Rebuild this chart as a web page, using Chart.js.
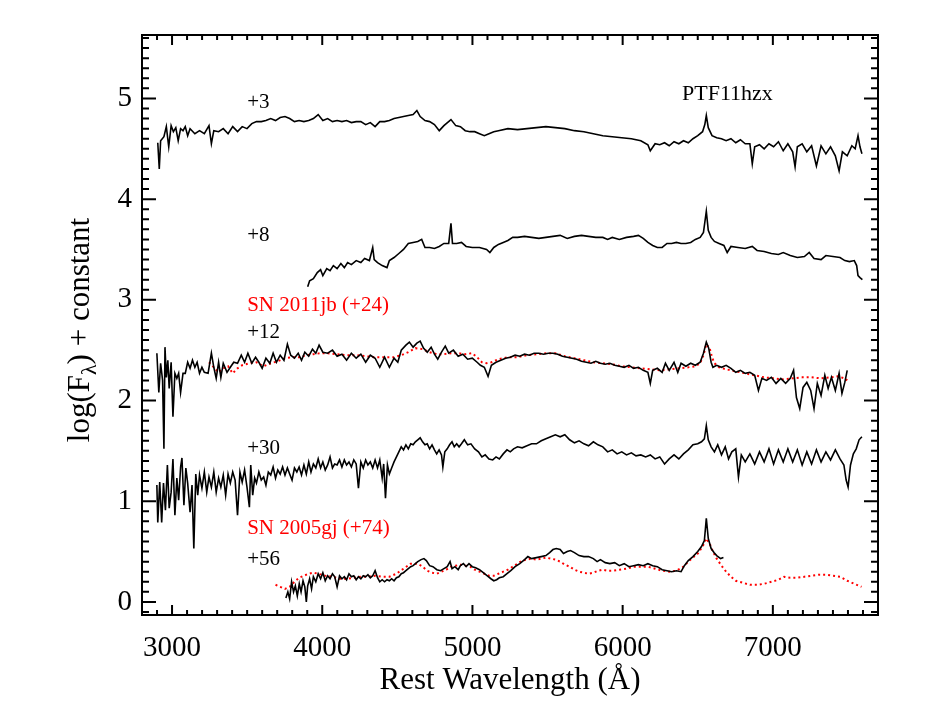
<!DOCTYPE html>
<html>
<head>
<meta charset="utf-8">
<title>PTF11hzx spectra</title>
<script src="https://cdn.jsdelivr.net/npm/chart.js@4.4.1/dist/chart.umd.min.js"></script>
<style>
  html, body { margin: 0; padding: 0; background: #fff; }
  canvas { display: block; }
</style>
</head>
<body>
<canvas id="spectraChart" width="941" height="727"></canvas>
<script>
// axis ticks
const xTicks = [3000, 4000, 5000, 6000, 7000];
const yTicks = [0, 1, 2, 3, 4, 5];

// +3 d
const wave3 = [2905, 2915, 2924, 2946, 2962, 2978, 2994, 3009, 3025, 3041, 3057, 3073, 3088, 3104, 3120, 3152, 3183, 3215, 3246, 3262, 3278, 3310, 3341, 3373, 3404, 3436, 3467, 3499, 3531, 3562, 3594, 3625, 3657, 3689, 3720, 3752, 3783, 3815, 3846, 3878, 3910, 3941, 3973, 4004, 4036, 4068, 4099, 4131, 4162, 4194, 4226, 4257, 4289, 4320, 4352, 4383, 4415, 4447, 4478, 4510, 4541, 4573, 4605, 4630, 4652, 4684, 4715, 4747, 4779, 4810, 4857, 4889, 4920, 4952, 4984, 5015, 5047, 5079, 5110, 5142, 5173, 5236, 5300, 5363, 5426, 5489, 5552, 5615, 5679, 5742, 5805, 5868, 5931, 5994, 6058, 6121, 6168, 6184, 6216, 6247, 6279, 6310, 6342, 6374, 6405, 6437, 6468, 6500, 6532, 6547, 6557, 6570, 6595, 6626, 6658, 6689, 6721, 6753, 6784, 6816, 6847, 6863, 6879, 6911, 6942, 6974, 7005, 7037, 7069, 7100, 7132, 7148, 7163, 7195, 7226, 7258, 7290, 7321, 7353, 7384, 7416, 7441, 7463, 7495, 7526, 7548, 7567, 7580, 7593];
const flux3 = [4.56, 4.30, 4.58, 4.62, 4.72, 4.52, 4.73, 4.67, 4.71, 4.58, 4.70, 4.68, 4.72, 4.63, 4.70, 4.65, 4.68, 4.65, 4.73, 4.55, 4.68, 4.67, 4.70, 4.65, 4.72, 4.67, 4.72, 4.70, 4.75, 4.77, 4.77, 4.78, 4.80, 4.78, 4.81, 4.82, 4.80, 4.77, 4.78, 4.77, 4.78, 4.80, 4.84, 4.78, 4.80, 4.77, 4.78, 4.77, 4.78, 4.76, 4.77, 4.77, 4.74, 4.76, 4.72, 4.77, 4.77, 4.78, 4.80, 4.81, 4.82, 4.83, 4.84, 4.88, 4.82, 4.78, 4.77, 4.74, 4.68, 4.73, 4.79, 4.73, 4.72, 4.68, 4.67, 4.67, 4.65, 4.63, 4.65, 4.67, 4.68, 4.70, 4.69, 4.70, 4.71, 4.72, 4.71, 4.70, 4.68, 4.67, 4.65, 4.63, 4.62, 4.61, 4.60, 4.58, 4.54, 4.48, 4.55, 4.54, 4.56, 4.53, 4.57, 4.55, 4.58, 4.56, 4.60, 4.63, 4.67, 4.74, 4.83, 4.71, 4.63, 4.61, 4.60, 4.58, 4.60, 4.56, 4.59, 4.55, 4.55, 4.35, 4.52, 4.54, 4.50, 4.55, 4.52, 4.57, 4.48, 4.55, 4.47, 4.32, 4.52, 4.55, 4.47, 4.53, 4.33, 4.53, 4.45, 4.52, 4.43, 4.28, 4.47, 4.43, 4.53, 4.50, 4.63, 4.52, 4.45];

// +8 d
const wave8 = [3903, 3916, 3941, 3967, 3989, 4004, 4030, 4052, 4074, 4099, 4124, 4147, 4169, 4194, 4226, 4257, 4282, 4314, 4336, 4346, 4368, 4399, 4431, 4447, 4478, 4510, 4541, 4573, 4605, 4636, 4662, 4684, 4715, 4747, 4779, 4810, 4842, 4857, 4867, 4895, 4927, 4958, 4999, 5047, 5094, 5116, 5142, 5173, 5205, 5236, 5268, 5300, 5347, 5394, 5442, 5489, 5536, 5584, 5631, 5679, 5726, 5773, 5821, 5868, 5900, 5931, 5978, 6026, 6073, 6105, 6137, 6168, 6200, 6231, 6263, 6295, 6326, 6358, 6389, 6421, 6453, 6484, 6516, 6538, 6557, 6570, 6589, 6611, 6642, 6674, 6696, 6721, 6768, 6816, 6863, 6895, 6942, 6990, 7037, 7069, 7116, 7163, 7210, 7242, 7274, 7321, 7353, 7400, 7447, 7479, 7510, 7542, 7558, 7567, 7580, 7596];
const flux8 = [3.13, 3.19, 3.21, 3.27, 3.30, 3.24, 3.31, 3.29, 3.34, 3.31, 3.36, 3.32, 3.37, 3.35, 3.39, 3.37, 3.41, 3.39, 3.52, 3.40, 3.37, 3.34, 3.32, 3.39, 3.42, 3.46, 3.50, 3.56, 3.57, 3.58, 3.60, 3.52, 3.52, 3.51, 3.53, 3.56, 3.56, 3.76, 3.56, 3.56, 3.57, 3.53, 3.52, 3.52, 3.50, 3.47, 3.52, 3.55, 3.57, 3.59, 3.62, 3.62, 3.63, 3.62, 3.61, 3.62, 3.63, 3.64, 3.61, 3.63, 3.64, 3.63, 3.62, 3.62, 3.60, 3.62, 3.60, 3.62, 3.63, 3.64, 3.61, 3.57, 3.54, 3.52, 3.52, 3.56, 3.56, 3.57, 3.56, 3.56, 3.57, 3.60, 3.62, 3.67, 3.88, 3.69, 3.62, 3.58, 3.56, 3.54, 3.47, 3.53, 3.52, 3.51, 3.53, 3.49, 3.48, 3.46, 3.45, 3.47, 3.44, 3.42, 3.43, 3.47, 3.41, 3.40, 3.44, 3.43, 3.42, 3.39, 3.38, 3.39, 3.34, 3.24, 3.22, 3.20];

// +12 d
const wave12 = [2899, 2912, 2924, 2937, 2946, 2953, 2962, 2972, 2981, 2994, 3006, 3019, 3032, 3044, 3057, 3073, 3088, 3104, 3120, 3136, 3152, 3167, 3183, 3199, 3215, 3240, 3262, 3278, 3294, 3310, 3325, 3341, 3366, 3388, 3411, 3436, 3461, 3483, 3505, 3531, 3556, 3578, 3600, 3625, 3651, 3673, 3695, 3720, 3745, 3768, 3790, 3815, 3840, 3862, 3884, 3910, 3935, 3957, 3979, 4004, 4036, 4068, 4099, 4131, 4162, 4194, 4226, 4257, 4289, 4320, 4352, 4383, 4415, 4447, 4478, 4503, 4526, 4557, 4580, 4605, 4630, 4652, 4674, 4699, 4725, 4747, 4769, 4794, 4819, 4842, 4873, 4905, 4936, 4968, 4999, 5031, 5053, 5079, 5104, 5126, 5157, 5189, 5221, 5252, 5284, 5315, 5347, 5379, 5410, 5442, 5473, 5505, 5536, 5568, 5599, 5631, 5663, 5694, 5726, 5758, 5789, 5821, 5852, 5884, 5915, 5947, 5978, 6010, 6042, 6073, 6105, 6137, 6168, 6184, 6200, 6231, 6263, 6285, 6310, 6342, 6367, 6389, 6421, 6453, 6484, 6516, 6538, 6557, 6573, 6589, 6601, 6626, 6658, 6689, 6721, 6753, 6784, 6816, 6847, 6879, 6904, 6927, 6958, 6990, 7021, 7053, 7085, 7116, 7138, 7157, 7179, 7201, 7226, 7252, 7274, 7296, 7321, 7346, 7368, 7390, 7416, 7441, 7460, 7479, 7495];
const flux12 = [2.47, 2.08, 2.37, 2.20, 1.52, 2.53, 2.23, 2.40, 2.12, 2.38, 1.84, 2.27, 2.22, 2.27, 2.08, 2.27, 2.27, 2.38, 2.32, 2.40, 2.33, 2.38, 2.27, 2.33, 2.28, 2.27, 2.47, 2.33, 2.22, 2.38, 2.23, 2.37, 2.28, 2.33, 2.38, 2.37, 2.45, 2.38, 2.47, 2.37, 2.43, 2.38, 2.32, 2.42, 2.37, 2.47, 2.38, 2.45, 2.40, 2.56, 2.45, 2.42, 2.47, 2.40, 2.48, 2.44, 2.51, 2.47, 2.55, 2.48, 2.47, 2.50, 2.44, 2.46, 2.40, 2.47, 2.42, 2.46, 2.38, 2.45, 2.42, 2.33, 2.43, 2.33, 2.42, 2.38, 2.50, 2.55, 2.58, 2.53, 2.57, 2.59, 2.52, 2.48, 2.53, 2.46, 2.41, 2.48, 2.54, 2.47, 2.50, 2.44, 2.46, 2.41, 2.42, 2.38, 2.35, 2.33, 2.24, 2.35, 2.38, 2.40, 2.42, 2.43, 2.45, 2.44, 2.46, 2.45, 2.47, 2.47, 2.46, 2.47, 2.47, 2.46, 2.44, 2.43, 2.42, 2.41, 2.39, 2.38, 2.37, 2.39, 2.37, 2.36, 2.37, 2.35, 2.34, 2.33, 2.35, 2.32, 2.33, 2.30, 2.28, 2.17, 2.30, 2.32, 2.28, 2.37, 2.30, 2.38, 2.28, 2.37, 2.34, 2.37, 2.35, 2.38, 2.47, 2.58, 2.52, 2.38, 2.33, 2.35, 2.33, 2.35, 2.32, 2.28, 2.30, 2.27, 2.28, 2.25, 2.10, 2.22, 2.20, 2.23, 2.17, 2.22, 2.17, 2.22, 2.30, 2.03, 1.92, 2.13, 2.18, 2.10, 1.92, 2.17, 2.05, 2.25, 2.12, 2.23, 2.10, 2.27, 2.07, 2.18, 2.30];

// SN 2011jb (+24), comparison
const waveJb = [3246, 3278, 3310, 3341, 3373, 3404, 3436, 3467, 3515, 3562, 3610, 3657, 3704, 3752, 3799, 3846, 3894, 3941, 3989, 4036, 4099, 4162, 4226, 4289, 4352, 4415, 4478, 4526, 4573, 4620, 4668, 4715, 4762, 4810, 4857, 4905, 4952, 4999, 5031, 5063, 5094, 5126, 5173, 5236, 5300, 5363, 5426, 5489, 5552, 5615, 5679, 5742, 5805, 5868, 5931, 5994, 6058, 6121, 6184, 6247, 6310, 6374, 6437, 6484, 6516, 6538, 6557, 6579, 6595, 6611, 6642, 6689, 6753, 6816, 6879, 6942, 7005, 7069, 7132, 7195, 7258, 7321, 7384, 7431, 7479, 7495];
const fluxJb = [2.38, 2.33, 2.28, 2.32, 2.34, 2.27, 2.32, 2.35, 2.37, 2.38, 2.34, 2.37, 2.39, 2.42, 2.43, 2.43, 2.45, 2.46, 2.47, 2.47, 2.46, 2.45, 2.45, 2.44, 2.43, 2.43, 2.43, 2.45, 2.48, 2.52, 2.51, 2.48, 2.46, 2.46, 2.47, 2.47, 2.46, 2.47, 2.43, 2.38, 2.37, 2.38, 2.41, 2.43, 2.43, 2.45, 2.46, 2.47, 2.47, 2.44, 2.42, 2.40, 2.38, 2.37, 2.36, 2.34, 2.33, 2.32, 2.31, 2.30, 2.31, 2.32, 2.33, 2.34, 2.37, 2.45, 2.56, 2.52, 2.43, 2.37, 2.33, 2.31, 2.29, 2.27, 2.25, 2.23, 2.22, 2.21, 2.22, 2.23, 2.23, 2.22, 2.23, 2.24, 2.22, 2.20];

// +30 d
const wave30 = [2899, 2905, 2918, 2931, 2943, 2956, 2969, 2981, 2994, 3006, 3019, 3032, 3044, 3057, 3066, 3079, 3092, 3104, 3120, 3133, 3145, 3158, 3171, 3183, 3199, 3215, 3231, 3246, 3262, 3278, 3294, 3310, 3325, 3341, 3357, 3373, 3388, 3404, 3420, 3436, 3452, 3467, 3483, 3499, 3515, 3524, 3537, 3550, 3562, 3578, 3594, 3610, 3625, 3641, 3657, 3673, 3689, 3704, 3720, 3736, 3752, 3768, 3783, 3799, 3815, 3831, 3846, 3862, 3878, 3894, 3910, 3925, 3941, 3957, 3973, 3989, 4004, 4020, 4036, 4052, 4068, 4083, 4099, 4115, 4131, 4147, 4162, 4178, 4194, 4210, 4226, 4241, 4257, 4273, 4289, 4304, 4320, 4336, 4352, 4368, 4383, 4399, 4409, 4421, 4434, 4447, 4462, 4478, 4494, 4510, 4526, 4541, 4557, 4573, 4589, 4605, 4620, 4636, 4652, 4668, 4684, 4699, 4715, 4731, 4747, 4762, 4778, 4794, 4803, 4816, 4832, 4848, 4864, 4879, 4895, 4911, 4927, 4946, 4968, 4990, 5015, 5040, 5063, 5085, 5110, 5135, 5157, 5179, 5205, 5230, 5252, 5274, 5300, 5331, 5363, 5394, 5426, 5458, 5489, 5521, 5552, 5584, 5615, 5647, 5679, 5710, 5742, 5773, 5805, 5836, 5868, 5900, 5931, 5963, 5994, 6026, 6058, 6089, 6121, 6153, 6184, 6216, 6247, 6279, 6310, 6342, 6374, 6405, 6437, 6468, 6500, 6525, 6544, 6557, 6570, 6589, 6611, 6633, 6658, 6683, 6705, 6727, 6753, 6771, 6790, 6816, 6847, 6879, 6911, 6942, 6974, 7005, 7037, 7069, 7100, 7132, 7163, 7195, 7226, 7258, 7290, 7321, 7353, 7384, 7416, 7447, 7473, 7488, 7501, 7517, 7536, 7555, 7574, 7593];
const flux30 = [1.16, 0.79, 1.19, 0.79, 1.18, 0.91, 1.36, 0.93, 1.09, 1.42, 0.86, 1.23, 1.01, 1.34, 1.43, 0.96, 1.33, 1.18, 0.89, 1.16, 0.53, 1.27, 1.06, 1.26, 1.13, 1.29, 1.09, 1.24, 1.14, 1.29, 1.09, 1.23, 1.14, 1.26, 1.06, 1.27, 1.18, 1.29, 1.21, 0.86, 1.29, 1.19, 1.31, 1.14, 0.94, 1.36, 1.06, 1.23, 1.18, 1.29, 1.21, 1.24, 1.16, 1.29, 1.26, 1.34, 1.23, 1.31, 1.27, 1.34, 1.26, 1.33, 1.27, 1.21, 1.33, 1.29, 1.34, 1.26, 1.36, 1.27, 1.39, 1.29, 1.37, 1.33, 1.42, 1.33, 1.39, 1.31, 1.36, 1.44, 1.33, 1.37, 1.36, 1.41, 1.34, 1.41, 1.36, 1.39, 1.34, 1.41, 1.37, 1.13, 1.39, 1.33, 1.41, 1.36, 1.39, 1.33, 1.41, 1.33, 1.41, 1.23, 1.37, 1.03, 1.36, 1.27, 1.33, 1.39, 1.44, 1.49, 1.54, 1.51, 1.56, 1.52, 1.57, 1.56, 1.59, 1.61, 1.63, 1.59, 1.56, 1.57, 1.52, 1.56, 1.51, 1.47, 1.51, 1.46, 1.34, 1.49, 1.52, 1.56, 1.59, 1.54, 1.57, 1.54, 1.57, 1.61, 1.56, 1.57, 1.52, 1.49, 1.44, 1.46, 1.42, 1.41, 1.44, 1.42, 1.47, 1.51, 1.49, 1.52, 1.54, 1.53, 1.55, 1.57, 1.57, 1.60, 1.62, 1.64, 1.66, 1.64, 1.66, 1.61, 1.58, 1.60, 1.57, 1.55, 1.59, 1.56, 1.54, 1.49, 1.51, 1.47, 1.49, 1.46, 1.48, 1.45, 1.46, 1.44, 1.46, 1.42, 1.44, 1.37, 1.42, 1.46, 1.42, 1.47, 1.51, 1.56, 1.57, 1.59, 1.62, 1.75, 1.61, 1.54, 1.49, 1.56, 1.46, 1.54, 1.42, 1.49, 1.52, 1.24, 1.46, 1.39, 1.47, 1.37, 1.49, 1.39, 1.52, 1.37, 1.51, 1.39, 1.52, 1.39, 1.51, 1.36, 1.49, 1.37, 1.51, 1.39, 1.49, 1.41, 1.51, 1.42, 1.36, 1.21, 1.14, 1.36, 1.47, 1.52, 1.61, 1.64];

// +56 d
const wave56 = [3758, 3771, 3783, 3796, 3809, 3821, 3834, 3847, 3859, 3872, 3884, 3894, 3903, 3916, 3929, 3941, 3957, 3973, 3989, 4004, 4020, 4036, 4052, 4068, 4083, 4099, 4115, 4131, 4147, 4162, 4178, 4194, 4210, 4226, 4241, 4257, 4273, 4289, 4304, 4320, 4336, 4352, 4368, 4383, 4399, 4415, 4431, 4447, 4462, 4478, 4494, 4510, 4526, 4541, 4557, 4573, 4589, 4605, 4620, 4636, 4658, 4677, 4693, 4715, 4737, 4763, 4788, 4810, 4832, 4851, 4864, 4883, 4905, 4920, 4940, 4958, 4977, 4999, 5021, 5047, 5072, 5097, 5123, 5142, 5161, 5179, 5205, 5230, 5255, 5284, 5315, 5347, 5369, 5394, 5426, 5458, 5489, 5514, 5536, 5558, 5584, 5606, 5631, 5653, 5679, 5710, 5742, 5773, 5805, 5830, 5852, 5884, 5915, 5947, 5978, 6010, 6042, 6073, 6105, 6137, 6168, 6200, 6231, 6263, 6295, 6326, 6358, 6389, 6411, 6437, 6468, 6500, 6525, 6544, 6557, 6570, 6589, 6608, 6626, 6652, 6671];
const flux56 = [0.04, 0.10, 0.03, 0.20, 0.10, 0.16, 0.06, 0.18, 0.10, 0.21, 0.15, 0.00, 0.16, 0.23, 0.13, 0.25, 0.20, 0.28, 0.23, 0.29, 0.21, 0.26, 0.23, 0.28, 0.25, 0.15, 0.26, 0.23, 0.25, 0.22, 0.28, 0.25, 0.26, 0.22, 0.25, 0.23, 0.26, 0.25, 0.27, 0.24, 0.26, 0.31, 0.24, 0.20, 0.22, 0.20, 0.22, 0.21, 0.23, 0.21, 0.24, 0.25, 0.28, 0.29, 0.31, 0.33, 0.35, 0.36, 0.38, 0.40, 0.42, 0.43, 0.41, 0.36, 0.35, 0.32, 0.31, 0.33, 0.35, 0.40, 0.33, 0.35, 0.32, 0.36, 0.38, 0.35, 0.38, 0.35, 0.34, 0.32, 0.29, 0.26, 0.23, 0.21, 0.22, 0.24, 0.25, 0.28, 0.31, 0.35, 0.38, 0.42, 0.45, 0.43, 0.44, 0.45, 0.46, 0.49, 0.52, 0.53, 0.52, 0.48, 0.50, 0.51, 0.49, 0.46, 0.45, 0.45, 0.43, 0.40, 0.42, 0.39, 0.38, 0.39, 0.36, 0.38, 0.35, 0.36, 0.37, 0.36, 0.38, 0.36, 0.35, 0.32, 0.31, 0.30, 0.31, 0.30, 0.36, 0.41, 0.45, 0.50, 0.55, 0.61, 0.83, 0.63, 0.53, 0.49, 0.46, 0.43, 0.44];

// SN 2005gj (+74), comparison
const waveGj = [3689, 3720, 3752, 3783, 3815, 3846, 3878, 3910, 3941, 3973, 4020, 4068, 4115, 4162, 4210, 4257, 4304, 4352, 4399, 4447, 4494, 4541, 4589, 4636, 4668, 4699, 4731, 4763, 4794, 4826, 4857, 4889, 4920, 4952, 4984, 5015, 5047, 5079, 5110, 5142, 5173, 5205, 5236, 5268, 5300, 5331, 5363, 5394, 5426, 5458, 5489, 5521, 5552, 5584, 5615, 5647, 5679, 5710, 5742, 5773, 5805, 5836, 5868, 5900, 5931, 5978, 6026, 6073, 6121, 6168, 6216, 6263, 6310, 6358, 6405, 6437, 6468, 6500, 6532, 6557, 6579, 6601, 6626, 6658, 6689, 6721, 6753, 6800, 6847, 6895, 6942, 6990, 7037, 7075, 7116, 7163, 7210, 7258, 7305, 7353, 7400, 7447, 7495, 7542, 7590];
const fluxGj = [0.17, 0.15, 0.13, 0.15, 0.20, 0.24, 0.26, 0.28, 0.29, 0.28, 0.26, 0.25, 0.23, 0.23, 0.24, 0.25, 0.25, 0.26, 0.25, 0.25, 0.28, 0.33, 0.38, 0.38, 0.35, 0.31, 0.29, 0.28, 0.30, 0.32, 0.35, 0.36, 0.37, 0.36, 0.35, 0.32, 0.30, 0.28, 0.26, 0.26, 0.28, 0.30, 0.32, 0.35, 0.38, 0.41, 0.42, 0.43, 0.42, 0.43, 0.44, 0.43, 0.42, 0.40, 0.37, 0.35, 0.32, 0.30, 0.29, 0.28, 0.29, 0.31, 0.32, 0.31, 0.31, 0.32, 0.33, 0.35, 0.35, 0.35, 0.33, 0.31, 0.30, 0.31, 0.35, 0.40, 0.44, 0.48, 0.55, 0.63, 0.58, 0.50, 0.43, 0.36, 0.30, 0.25, 0.21, 0.19, 0.17, 0.17, 0.18, 0.20, 0.22, 0.25, 0.24, 0.24, 0.25, 0.26, 0.27, 0.27, 0.26, 0.25, 0.21, 0.18, 0.15];

// text labels placed in data coordinates
const labels = [
  { text: "+3", x: 3500, y: 4.91, color: "#000" },
  { text: "PTF11hzx", x: 6395, y: 4.98, color: "#000", size: 22 },
  { text: "+8", x: 3500, y: 3.58, color: "#000" },
  { text: "SN 2011jb (+24)", x: 3500, y: 2.89, color: "#ff0000" },
  { text: "+12", x: 3500, y: 2.62, color: "#000" },
  { text: "+30", x: 3500, y: 1.47, color: "#000" },
  { text: "SN 2005gj (+74)", x: 3500, y: 0.67, color: "#ff0000" },
  { text: "+56", x: 3500, y: 0.37, color: "#000" },
];

const serif = "'Liberation Serif', 'DejaVu Serif', serif";
const toPoints = (w, f) => w.map((v, i) => ({ x: v, y: f[i] }));

const spectrum = (w, f) => ({
  data: toPoints(w, f),
  borderColor: "#000",
  borderWidth: 1.6,
  pointRadius: 0,
  tension: 0,
});
const comparison = (w, f) => ({
  data: toPoints(w, f),
  borderColor: "#ff0000",
  borderWidth: 2,
  borderDash: [2, 3],
  pointRadius: 0,
  tension: 0,
});

// frame with inward ticks on all four sides
const frameTicks = {
  id: "frameTicks",
  afterDatasetsDraw(chart) {
    const { ctx, chartArea: a, scales } = chart;
    const xs = scales.x, ys = scales.y;
    ctx.save();
    ctx.strokeStyle = "#000";
    ctx.lineWidth = 2;
    ctx.strokeRect(a.left, a.top, a.right - a.left, a.bottom - a.top);
    ctx.beginPath();
    for (let k = 28; k <= 77; k++) {
      const px = xs.getPixelForValue(k * 100);
      const len = k % 10 === 0 ? 10 : 5;
      ctx.moveTo(px, a.bottom);
      ctx.lineTo(px, a.bottom - len);
      ctx.moveTo(px, a.top);
      ctx.lineTo(px, a.top + len);
    }
    for (let k = -1; k <= 56; k++) {
      const py = ys.getPixelForValue(k / 10);
      const len = k % 10 === 0 ? 14 : 7;
      ctx.moveTo(a.left, py);
      ctx.lineTo(a.left + len, py);
      ctx.moveTo(a.right, py);
      ctx.lineTo(a.right - len, py);
    }
    ctx.stroke();
    ctx.restore();
  },
};

// y title with subscript lambda, and epoch labels
const texts = {
  id: "texts",
  afterDraw(chart) {
    const { ctx, scales } = chart;
    ctx.save();
    ctx.textBaseline = "alphabetic";
    ctx.textAlign = "left";
    labels.forEach((l) => {
      ctx.font = (l.size || 21) + "px " + serif;
      ctx.fillStyle = l.color;
      ctx.fillText(l.text, scales.x.getPixelForValue(l.x), scales.y.getPixelForValue(l.y));
    });

    const big = "31px " + serif;
    const small = "22px " + serif;
    const parts = [
      ["log(F", big, 0],
      ["\u03bb", small, 7],
      [") + constant", big, 0],
    ];
    let total = 0;
    parts.forEach((p) => {
      ctx.font = p[1];
      total += ctx.measureText(p[0]).width;
    });
    ctx.translate(89, 330);
    ctx.rotate(-Math.PI / 2);
    ctx.fillStyle = "#000";
    let pos = -total / 2;
    parts.forEach((p) => {
      ctx.font = p[1];
      ctx.fillText(p[0], pos, p[2]);
      pos += ctx.measureText(p[0]).width;
    });
    ctx.restore();
  },
};

new Chart(document.getElementById("spectraChart"), {
  type: "line",
  data: {
    datasets: [
      spectrum(wave3, flux3),
      spectrum(wave8, flux8),
      spectrum(wave12, flux12),
      comparison(waveJb, fluxJb),
      spectrum(wave30, flux30),
      spectrum(wave56, flux56),
      comparison(waveGj, fluxGj),
    ],
  },
  options: {
    responsive: false,
    animation: false,
    layout: { padding: { left: 0, right: 63, top: 35, bottom: 0 } },
    plugins: { legend: { display: false }, tooltip: { enabled: false } },
    scales: {
      x: {
        type: "linear",
        min: 2800,
        max: 7700,
        afterBuildTicks: (s) => { s.ticks = xTicks.map((v) => ({ value: v })); },
        afterFit: (s) => { s.height = 112; },
        grid: { display: false, drawTicks: false },
        border: { display: false },
        ticks: {
          color: "#000",
          padding: 16,
          font: { family: serif, size: 29 },
          callback: (v) => String(v),
        },
        title: {
          display: true,
          text: "Rest Wavelength (\u00c5)",
          color: "#000",
          font: { family: serif, size: 31 },
          padding: { top: 0, bottom: 28 },
        },
      },
      y: {
        type: "linear",
        min: -0.13,
        max: 5.63,
        afterBuildTicks: (s) => { s.ticks = yTicks.map((v) => ({ value: v })); },
        afterFit: (s) => { s.width = 142; },
        grid: { display: false, drawTicks: false },
        border: { display: false },
        ticks: {
          color: "#000",
          padding: 10,
          font: { family: serif, size: 29 },
          callback: (v) => String(v),
        },
      },
    },
  },
  plugins: [frameTicks, texts],
});
</script>
</body>
</html>
